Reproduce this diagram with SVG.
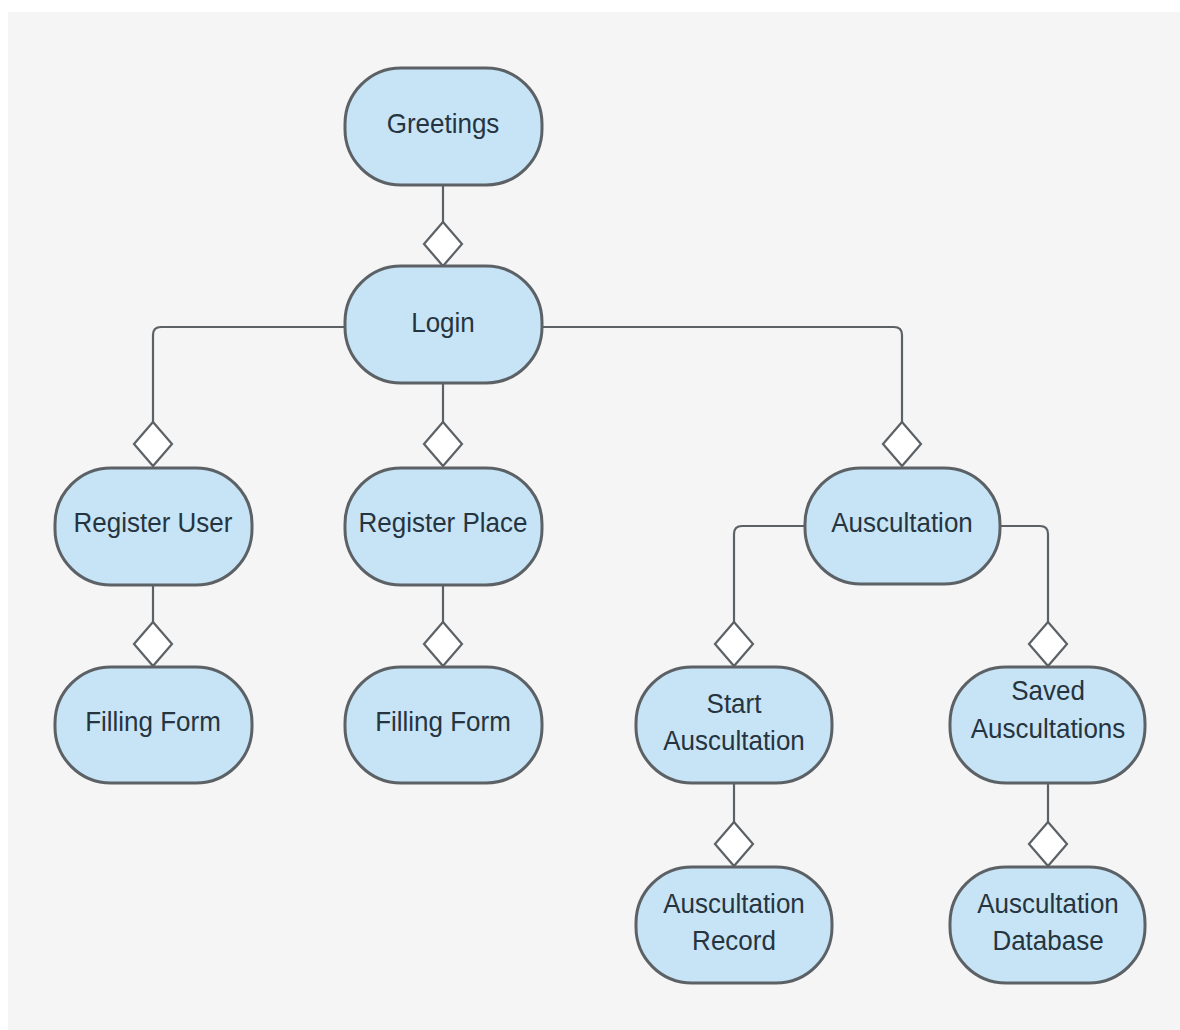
<svg xmlns="http://www.w3.org/2000/svg" width="1180" height="1030" viewBox="0 0 1180 1030">
<style>
.node{fill:#c6e4f6;stroke:#5c6166;stroke-width:3}
.lbl{font-family:"Liberation Sans",Arial,sans-serif;font-size:26px;fill:#26343f;text-anchor:middle}
.ln{fill:none;stroke:#5c6166;stroke-width:2.2}
.dia{fill:#ffffff;stroke:#5c6166;stroke-width:2.2}
</style>
<defs>
<polygon id="d" points="0,-22 19,0 0,22 -19,0"/>
</defs>
<rect x="0" y="0" width="1180" height="1030" fill="#ffffff"/>
<rect x="8" y="12" width="1172" height="1018" fill="#f5f5f5"/>
<g id="connectors">
<path class="ln" d="M443,185 V222"/>
<path class="ln" d="M345,327 H161 Q153,327 153,335 V422"/>
<path class="ln" d="M443,383 V422"/>
<path class="ln" d="M542,327 H894 Q902,327 902,335 V422"/>
<path class="ln" d="M153,585 V622"/>
<path class="ln" d="M443,585 V622"/>
<path class="ln" d="M805,526 H742 Q734,526 734,534 V622"/>
<path class="ln" d="M1000,526 H1040 Q1048,526 1048,534 V622"/>
<path class="ln" d="M734,783 V822"/>
<path class="ln" d="M1048,783 V822"/>
<use href="#d" class="dia" x="443" y="244"/>
<use href="#d" class="dia" x="153" y="444"/>
<use href="#d" class="dia" x="443" y="444"/>
<use href="#d" class="dia" x="902" y="444"/>
<use href="#d" class="dia" x="153" y="644"/>
<use href="#d" class="dia" x="443" y="644"/>
<use href="#d" class="dia" x="734" y="644"/>
<use href="#d" class="dia" x="1048" y="644"/>
<use href="#d" class="dia" x="734" y="844"/>
<use href="#d" class="dia" x="1048" y="844"/>
</g>
<g id="greetings"><rect class="node" x="345" y="68" width="197" height="117" rx="56"/><text class="lbl" transform="translate(443,133) scale(1,1.08)">Greetings</text></g>
<g id="login"><rect class="node" x="345" y="266" width="197" height="117" rx="56"/><text class="lbl" transform="translate(443,332) scale(1,1.08)">Login</text></g>
<g id="register-user"><rect class="node" x="55" y="468" width="197" height="117" rx="56"/><text class="lbl" transform="translate(153,532) scale(1,1.08)">Register User</text></g>
<g id="register-place"><rect class="node" x="345" y="468" width="197" height="117" rx="56"/><text class="lbl" transform="translate(443,532) scale(1,1.08)">Register Place</text></g>
<g id="auscultation"><rect class="node" x="805" y="468" width="195" height="116" rx="56"/><text class="lbl" transform="translate(902,532) scale(1,1.08)">Auscultation</text></g>
<g id="filling-form-user"><rect class="node" x="55" y="667" width="197" height="116" rx="56"/><text class="lbl" transform="translate(153,731) scale(1,1.08)">Filling Form</text></g>
<g id="filling-form-place"><rect class="node" x="345" y="667" width="197" height="116" rx="56"/><text class="lbl" transform="translate(443,731) scale(1,1.08)">Filling Form</text></g>
<g id="start-auscultation"><rect class="node" x="636" y="667" width="196" height="116" rx="56"/><text class="lbl" transform="translate(734,713) scale(1,1.08)">Start</text><text class="lbl" transform="translate(734,750) scale(1,1.08)">Auscultation</text></g>
<g id="saved-auscultations"><rect class="node" x="950" y="667" width="195" height="116" rx="56"/><text class="lbl" transform="translate(1048,700) scale(1,1.08)">Saved</text><text class="lbl" transform="translate(1048,738) scale(1,1.08)">Auscultations</text></g>
<g id="auscultation-record"><rect class="node" x="636" y="867" width="196" height="116" rx="56"/><text class="lbl" transform="translate(734,913) scale(1,1.08)">Auscultation</text><text class="lbl" transform="translate(734,950) scale(1,1.08)">Record</text></g>
<g id="auscultation-database"><rect class="node" x="950" y="867" width="195" height="116" rx="56"/><text class="lbl" transform="translate(1048,913) scale(1,1.08)">Auscultation</text><text class="lbl" transform="translate(1048,950) scale(1,1.08)">Database</text></g>
</svg>
